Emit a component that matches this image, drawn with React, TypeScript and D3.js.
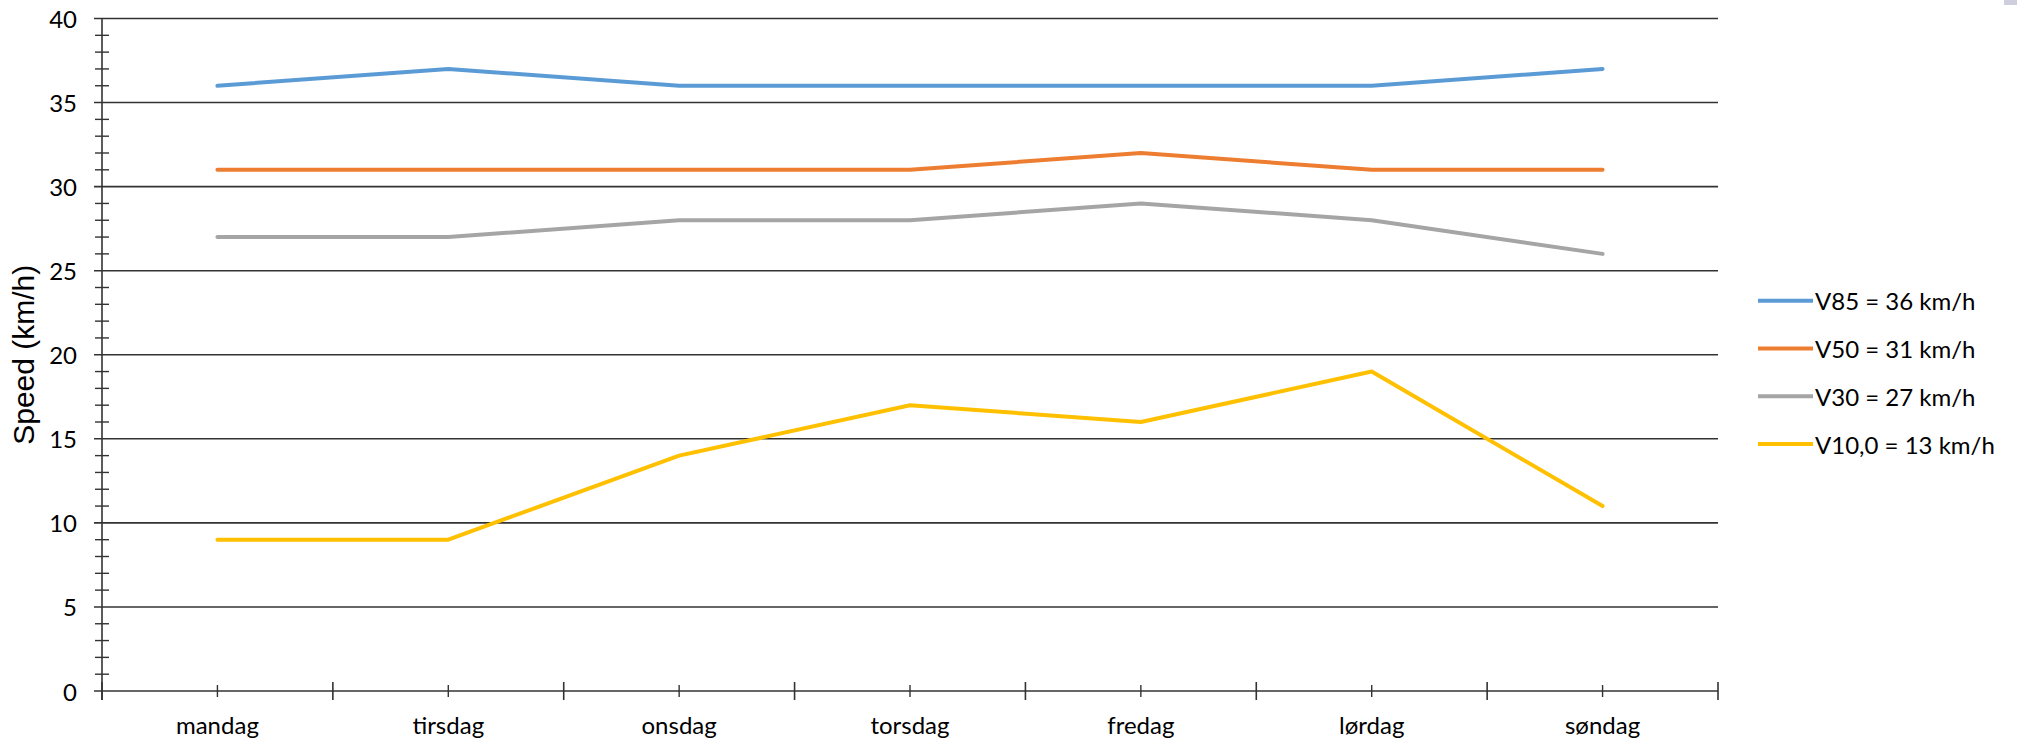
import React from "react";
import * as d3 from "d3";

const days = ["mandag", "tirsdag", "onsdag", "torsdag", "fredag", "lørdag", "søndag"];
const v85 = [36, 37, 36, 36, 36, 36, 37];
const v50 = [31, 31, 31, 31, 32, 31, 31];
const v30 = [27, 27, 28, 28, 29, 28, 26];
const v10 = [9, 9, 14, 17, 16, 19, 11];
const seriesNames = ["V85 = 36 km/h", "V50 = 31 km/h", "V30 = 27 km/h", "V10,0 = 13 km/h"];
const seriesColors = ["#5B9BD5", "#ED7D31", "#A5A5A5", "#FFC000"];
const seriesValues = [v85, v50, v30, v10];
const yMajorTicks = [0, 5, 10, 15, 20, 25, 30, 35, 40];
const yTitle = "Speed (km/h)";

const W = 2017;
const H = 741;
const left = 102;
const right = 1718;
const top = 18.5;
const bottom = 691;
const FONT = "Lato, 'Open Sans', sans-serif";

export default function App() {
  const x = d3.scaleBand<string>().domain(days).range([left, right]).padding(0);
  const y = d3.scaleLinear().domain([0, 40]).range([bottom, top]);
  const bw = x.bandwidth();
  const cx = (d: string) => (x(d) as number) + bw / 2;
  const line = d3
    .line<number>()
    .x((_, i) => cx(days[i]))
    .y((v) => y(v));
  const minor = d3.range(0, 41).filter((v) => v % 5 !== 0);
  const boundaries = days.map((d) => x(d) as number).concat([right]);
  const axisColor = "#333";

  return (
    <svg
      width={W}
      height={H}
      style={{ position: "absolute", left: 0, top: 0, display: "block", background: "#fff" }}
    >
      <rect x={0} y={0} width={W} height={H} fill="#fff" />
      <rect x={2004} y={0} width={13} height={5} fill="#b9b9d0" opacity={0.7} />
      {/* gridlines */}
      {yMajorTicks.map((t) => (
        <line key={"g" + t} x1={left - 8} x2={right} y1={y(t)} y2={y(t)} stroke={axisColor} strokeWidth={1.6} />
      ))}
      {/* y axis */}
      <line x1={left} x2={left} y1={top} y2={bottom + 9} stroke={axisColor} strokeWidth={1.6} />
      {minor.map((t) => (
        <line key={"m" + t} x1={left - 7} x2={left + 7} y1={y(t)} y2={y(t)} stroke={axisColor} strokeWidth={1.4} />
      ))}
      {yMajorTicks.map((t) => (
        <text
          key={"yl" + t}
          x={77}
          y={y(t)}
          textAnchor="end"
          dominantBaseline="central"
          fontFamily={FONT}
          fontSize={24}
          fill="#000"
        >
          {t}
        </text>
      ))}
      {/* x axis ticks */}
      {boundaries.map((b, i) => (
        <line key={"xb" + i} x1={b} x2={b} y1={bottom - 9} y2={bottom + 9} stroke={axisColor} strokeWidth={1.6} />
      ))}
      {days.map((d) => (
        <line key={"xm" + d} x1={cx(d)} x2={cx(d)} y1={bottom - 6} y2={bottom + 6} stroke={axisColor} strokeWidth={1.4} />
      ))}
      {days.map((d) => (
        <text key={"xl" + d} x={cx(d)} y={734} textAnchor="middle" fontFamily={FONT} fontSize={24} fill="#000">
          {d}
        </text>
      ))}
      {/* y title */}
      <text
        transform={`translate(34, ${(top + bottom) / 2}) rotate(-90)`}
        textAnchor="middle"
        fontFamily="'Liberation Sans', Arial, sans-serif"
        fontSize={30}
        fill="#000"
      >
        {yTitle}
      </text>
      {/* series */}
      {seriesValues.map((vals, i) => (
        <path
          key={"s" + i}
          d={line(vals) as string}
          fill="none"
          stroke={seriesColors[i]}
          strokeWidth={4}
          strokeLinejoin="round"
          strokeLinecap="round"
        />
      ))}
      {/* legend */}
      {seriesNames.map((n, i) => {
        const ly = 300.7 + i * 47.8;
        return (
          <g key={"lg" + i}>
            <line x1={1758} x2={1813} y1={ly} y2={ly} stroke={seriesColors[i]} strokeWidth={4} />
            <text x={1815} y={ly} dominantBaseline="central" fontFamily={FONT} fontSize={24} fill="#000">
              {n}
            </text>
          </g>
        );
      })}
    </svg>
  );
}
